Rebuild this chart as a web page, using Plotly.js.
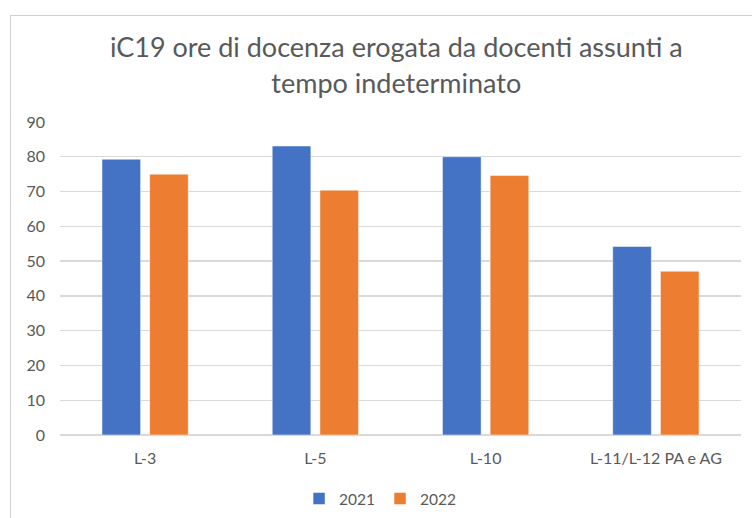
<!DOCTYPE html>
<html>
<head>
<meta charset="utf-8">
<script src="https://cdn.plot.ly/plotly-3.0.1.min.js"></script>
<style>
html,body{margin:0;padding:0;background:#fff;}
#wrap{position:relative;width:752px;height:518px;overflow:hidden;}
#chart{width:752px;height:518px;}
#frame{position:absolute;left:10px;top:15px;width:800px;height:600px;border:1px solid #d0d0d0;pointer-events:none;}
</style>
</head>
<body>
<div id="wrap"><div id="chart"></div><div id="frame"></div></div>
<script>
var categories = ["L-3", "L-5", "L-10", "L-11/L-12 PA e AG"];
var values2021 = [79.3, 83.1, 80.0, 54.2];
var values2022 = [75.0, 70.4, 74.6, 47.1];
var seriesNames = ["2021", "2022"];
var yTicks = [0, 10, 20, 30, 40, 50, 60, 70, 80, 90];

var font = "Lato, 'Open Sans', sans-serif";
var traces = [
  {type: "bar", name: seriesNames[0], x: categories, y: values2021,
   marker: {color: "#4472C4", line: {color: "#ffffff", width: 0.5}}},
  {type: "bar", name: seriesNames[1], x: categories, y: values2022,
   marker: {color: "#ED7D31", line: {color: "#ffffff", width: 0.5}}}
];
var layout = {
  width: 752, height: 518,
  margin: {l: 60, r: 11, t: 122, b: 83, autoexpand: false},
  paper_bgcolor: "#ffffff", plot_bgcolor: "#ffffff",
  font: {family: font, color: "#595959", size: 16},
  title: {
    text: "iC19 ore di docenza erogata da docenti assunti a<br>tempo indeterminato",
    font: {family: font, size: 27, color: "#595959"},
    x: 0.527, xref: "container", xanchor: "center",
    y: 0.889, yref: "container", yanchor: "middle"
  },
  barmode: "group", bargap: 0.44, bargroupgap: 0.19,
  xaxis: {
    type: "category", range: [-0.5, 3.5], automargin: false,
    showgrid: false, showline: false, zeroline: false, ticks: "",
    ticklabelstandoff: 12,
    tickfont: {family: font, size: 16, color: "#595959"},
    fixedrange: true
  },
  yaxis: {
    range: [0, 90], tickvals: yTicks, ticktext: yTicks.map(String), automargin: false,
    showgrid: true, gridcolor: "#d9d9d9", gridwidth: 1.3,
    zeroline: true, zerolinecolor: "#d9d9d9", zerolinewidth: 1.3,
    showline: false, ticks: "", ticklabelstandoff: 14,
    tickfont: {family: font, size: 16, color: "#595959"},
    fixedrange: true
  },
  showlegend: true,
  legend: {
    orientation: "h", x: 0.47, xanchor: "center", y: -0.15, yanchor: "top",
    font: {family: font, size: 15.5, color: "#595959"},
    itemwidth: 30, traceorder: "normal"
  }
};
Plotly.newPlot("chart", traces, layout, {displayModeBar: false, staticPlot: true});
</script>
</body>
</html>
